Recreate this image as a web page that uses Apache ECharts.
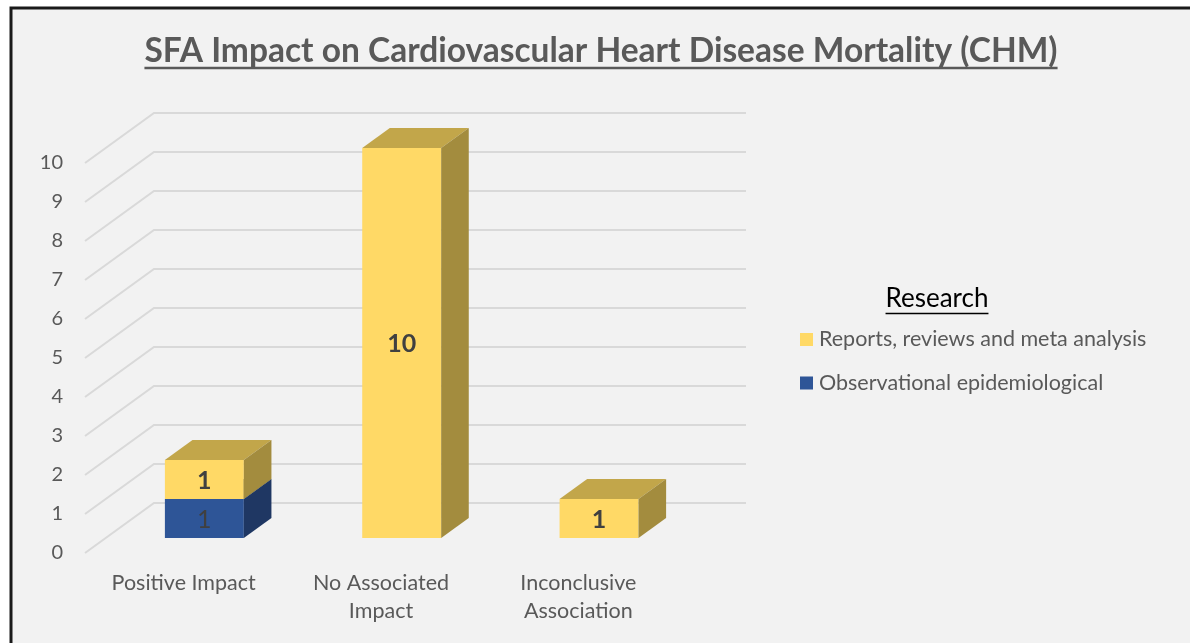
<!DOCTYPE html>
<html>
<head>
<meta charset="utf-8">
<script src="https://cdn.jsdelivr.net/npm/echarts@6/dist/echarts.min.js"></script>
<style>
html,body{margin:0;padding:0;background:#ffffff;}
#chart{width:1190px;height:643px;}
</style>
</head>
<body>
<div id="chart"></div>
<script>
// ---- data ----
const titleText = 'SFA Impact on Cardiovascular Heart Disease Mortality (CHM)';
const legendTitle = 'Research';
const categories = ['Positive Impact', 'No Associated\nImpact', 'Inconclusive\nAssociation'];
const seriesNames = ['Reports, reviews and meta analysis', 'Observational epidemiological'];
const observational = [1, 0, 0];
const reports = [1, 10, 1];
const yTicks = [0, 1, 2, 3, 4, 5, 6, 7, 8, 9, 10];

// ---- style constants ----
const FONT = 'Lato, "Open Sans", sans-serif';
const DEPTH = [69, -50];          // back-wall offset in pixels
const BAR_FRONT = 0.3, BAR_BACK = 0.7, BAR_W = 0.4;
const COLORS = {
  yellow: {front: '#FFD966', top: '#C2A64A', side: '#A38C3E'},
  blue:   {front: '#2E5597', top: '#26467D', side: '#1F3763'}
};

const chart = echarts.init(document.getElementById('chart'), null, {renderer: 'canvas'});

function gridRender(params, api) {
  const v = api.value(0);
  const cs = params.coordSys;
  const y = api.coord([0, v])[1];
  const x0 = cs.x;
  const bx = x0 + DEPTH[0], by = y + DEPTH[1];
  const ex = cs.x + cs.width + DEPTH[0];
  return {
    type: 'polyline',
    shape: {points: [[x0, y], [bx, by], [ex, by]]},
    style: {stroke: '#D9D9D9', lineWidth: 2, fill: null},
    silent: true
  };
}

function makeBarRender(col, bold) {
  return function (params, api) {
    const ci = api.value(0), base = api.value(1), top = api.value(2), val = api.value(3);
    if (!val) return null;
    const band = api.size([1, 0])[0];
    const c = api.coord([ci, base]);
    const ct = api.coord([ci, top]);
    const w = band * BAR_W;
    const fx = c[0] - w / 2 + DEPTH[0] * BAR_FRONT;
    const fyB = c[1] + DEPTH[1] * BAR_FRONT;
    const fyT = ct[1] + DEPTH[1] * BAR_FRONT;
    const dx = DEPTH[0] * (BAR_BACK - BAR_FRONT), dy = DEPTH[1] * (BAR_BACK - BAR_FRONT);
    return {
      type: 'group',
      children: [
        {type: 'rect', shape: {x: fx, y: fyT, width: w, height: fyB - fyT}, style: {fill: col.front}},
        {type: 'polygon', shape: {points: [[fx, fyT], [fx + w, fyT], [fx + w + dx, fyT + dy], [fx + dx, fyT + dy]]}, style: {fill: col.top}},
        {type: 'polygon', shape: {points: [[fx + w, fyT], [fx + w + dx, fyT + dy], [fx + w + dx, fyB + dy], [fx + w, fyB]]}, style: {fill: col.side}},
        {type: 'text', style: {text: String(val), x: fx + w / 2, y: (fyT + fyB) / 2 + 1, align: 'center', verticalAlign: 'middle',
          font: (bold ? 'bold ' : '') + '25px ' + FONT, fill: '#404040'}}
      ]
    };
  };
}

const obsData = categories.map((c, i) => [i, 0, observational[i], observational[i]]);
const repData = categories.map((c, i) => [i, observational[i], observational[i] + reports[i], reports[i]]);

function measure(text, font) {
  const cv = document.createElement('canvas').getContext('2d');
  cv.font = font;
  return cv.measureText(text).width;
}
const titleFont = 'bold 33.5px ' + FONT;
const titleW = measure(titleText, titleFont);
const titleCx = 601;
const legFont = '26px ' + FONT;
const legW = measure(legendTitle, legFont);
const legCx = 937;

chart.setOption({
  backgroundColor: '#ffffff',
  animation: false,
  graphic: [
    {type: 'rect', z: -10, shape: {x: 11, y: 8, width: 1300, height: 800}, style: {fill: '#F2F2F2', stroke: '#1A1A1A', lineWidth: 3}},
    {type: 'text', z: 10, style: {text: titleText, x: titleCx, y: 51, align: 'center', verticalAlign: 'middle', font: titleFont, fill: '#595959'}},
    {type: 'line', z: 10, shape: {x1: titleCx - titleW / 2, y1: 68, x2: titleCx + titleW / 2, y2: 68}, style: {stroke: '#595959', lineWidth: 2.5}},
    {type: 'text', z: 10, style: {text: legendTitle, x: legCx, y: 299, align: 'center', verticalAlign: 'middle', font: legFont, fill: '#000000'}},
    {type: 'line', z: 10, shape: {x1: legCx - legW / 2, y1: 313.5, x2: legCx + legW / 2, y2: 313.5}, style: {stroke: '#000000', lineWidth: 1.5}}
  ],
  legend: {
    data: seriesNames,
    orient: 'vertical',
    left: 795,
    top: 323.5,
    padding: 5,
    itemWidth: 13,
    itemHeight: 13,
    itemGap: 21.5,
    icon: 'rect',
    textStyle: {fontFamily: FONT, fontSize: 21.5, color: '#595959', lineHeight: 22, padding: [0, 0, 0, 1]},
    selectedMode: false
  },
  grid: {left: 85, top: 163, width: 592, height: 390, containLabel: false},
  xAxis: {
    type: 'category',
    data: categories,
    axisLine: {show: false},
    axisTick: {show: false},
    axisLabel: {fontFamily: FONT, fontSize: 21.5, color: '#595959', lineHeight: 28, margin: 16, interval: 0}
  },
  yAxis: {
    type: 'value',
    min: 0, max: 10, interval: 1,
    axisLine: {show: false},
    axisTick: {show: false},
    splitLine: {show: false},
    axisLabel: {fontFamily: FONT, fontSize: 20, color: '#595959', margin: 22}
  },
  series: [
    {type: 'custom', name: '_grid', data: yTicks.map(v => [v]), renderItem: gridRender, z: 1, silent: true,
      encode: {y: 0}},
    {type: 'custom', name: seriesNames[1], itemStyle: {color: COLORS.blue.front}, data: obsData,
      renderItem: makeBarRender(COLORS.blue, false), z: 2, encode: {x: 0, y: 2}},
    {type: 'custom', name: seriesNames[0], itemStyle: {color: COLORS.yellow.front}, data: repData,
      renderItem: makeBarRender(COLORS.yellow, true), z: 3, encode: {x: 0, y: 2}}
  ]
});
</script>
</body>
</html>
